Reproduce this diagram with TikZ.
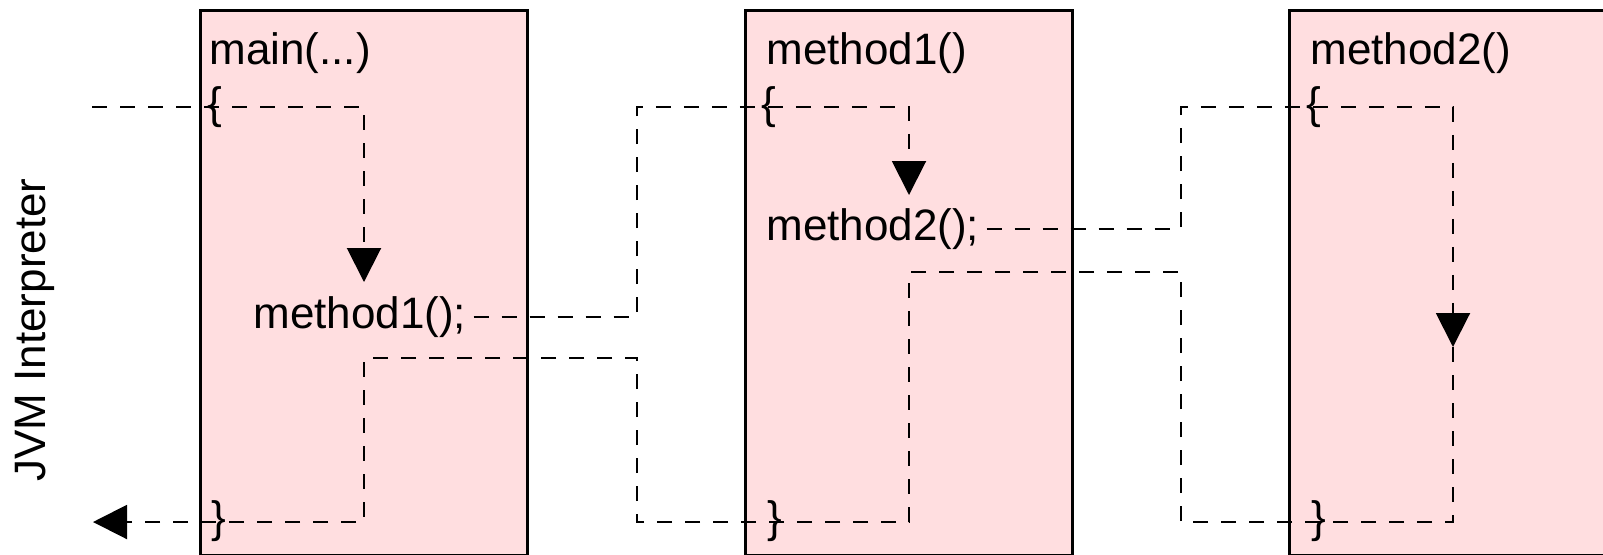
\documentclass[tikz,border=0pt]{standalone}
\usepackage{fontspec}
\setmainfont{Liberation Sans}
\usetikzlibrary{arrows.meta}
\definecolor{framepink}{RGB}{255,222,224}
\tikzset{
  methodbox/.style={draw, line width=1.5pt, fill=framepink},
  callpath/.style={line width=1pt, dash pattern=on 7.5pt off 6.5pt},
  code/.style={inner sep=0pt, anchor=base west, font=\fontsize{22}{26}\selectfont}
}
\begin{document}
\begin{tikzpicture}[x=0.5pt,y=-0.5pt,>={Triangle[width=17pt,length=17pt]}]
\useasboundingbox (0,0) rectangle (1603,554);
\begin{scope}
\clip (0,0) rectangle (1603,554);
\draw[methodbox] (200,10) rectangle (527,555);
\draw[methodbox] (745,10) rectangle (1072,555);
\draw[methodbox] (1289,10) rectangle (1616,555);
\end{scope}
% labels
\node[code] (t1) at (209,64) {main(...)};
\node[code] (t2) at (766,64) {method1()};
\node[code] (t3) at (1310,64) {method2()};
\node[code] (c1) at (253,328) {method1();};
\node[code] (c2) at (766,240) {method2();};
\node[code,anchor=center,rotate=90] (jvm) at (35,330) {JVM Interpreter};
% entry and exit points
\coordinate (in) at (92,107);
\coordinate (out) at (93,522);
\coordinate (tip1) at (364,282);
\coordinate (tip2) at (909,195);
\coordinate (tip3) at (1453,347);
\coordinate (ret1) at (637,358);
\coordinate (ret2) at (1181,272);
% calls
\draw[callpath,->] (in) -| (tip1);
\draw[callpath,->,shorten <=3.5pt] (c1.east) -| (ret1 |- in) -| (tip2);
\draw[callpath,->,shorten <=3.5pt] (c2.east) -| (ret2 |- in) -| (tip3);
% returns
\draw[callpath,->] (tip3) |- (ret2 |- out) -- (ret2) -| (tip2 |- out) -| (ret1) -| (tip1 |- out) -- (out);
% braces
\node[code] (o1) at (207,118) {\{};
\node[code] (o2) at (761,118) {\{};
\node[code] (o3) at (1306,118) {\{};
\node[code] (e1) at (211,532) {\}};
\node[code] (e2) at (767,532) {\}};
\node[code] (e3) at (1311,532) {\}};
\end{tikzpicture}
\end{document}
